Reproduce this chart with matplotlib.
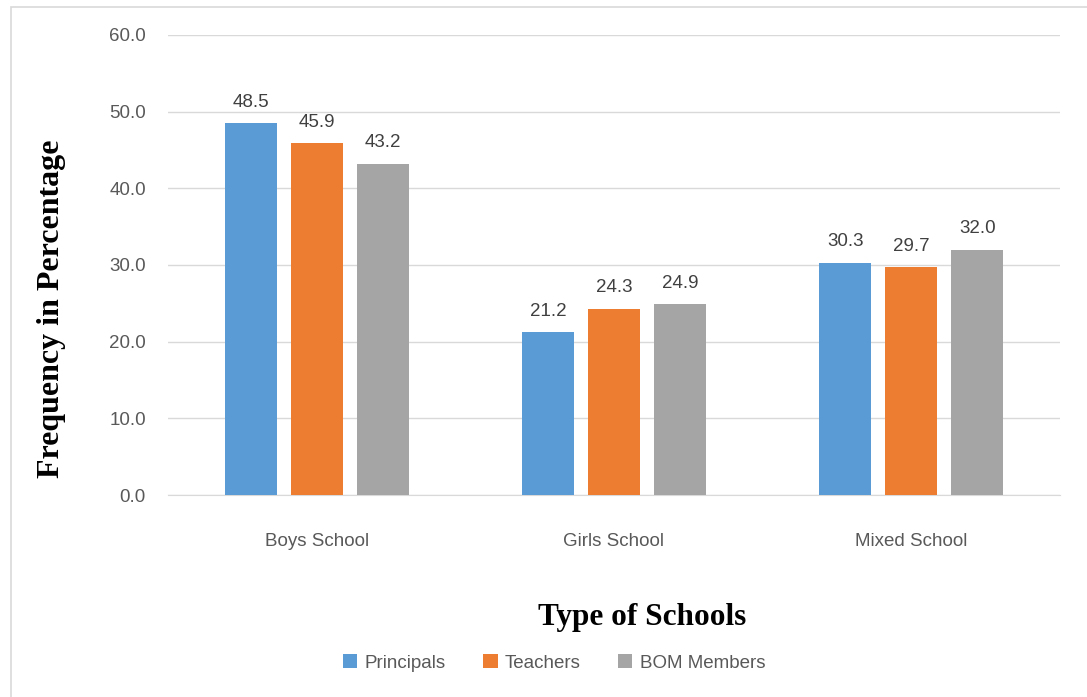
import matplotlib.pyplot as plt
import numpy as np
from matplotlib.patches import Rectangle

# Share of respondents by school type
school_types = ["Boys School", "Girls School", "Mixed School"]
principals = [48.5, 21.2, 30.3]
teachers = [45.9, 24.3, 29.7]
bom_members = [43.2, 24.9, 32.0]

series = [("Principals", principals, "#5B9BD5"),
          ("Teachers", teachers, "#ED7D31"),
          ("BOM Members", bom_members, "#A5A5A5")]

fig = plt.figure(figsize=(10.87, 6.97), dpi=100)
ax = fig.add_axes([0.1546, 0.2898, 0.8204, 0.66])

x = np.arange(len(school_types))
width = 0.175
offsets = [-0.222, 0.0, 0.222]

for (name, vals, color), off in zip(series, offsets):
    bars = ax.bar(x + off, vals, width, color=color, label=name, zorder=3)
    for b, v in zip(bars, vals):
        ax.annotate(f"{v:.1f}", (b.get_x() + b.get_width() / 2, v),
                    xytext=(0, 9), textcoords="offset points",
                    ha="center", va="bottom", fontsize=13.5,
                    family="Liberation Sans", color="#404040")

ax.set_xlim(-0.5, 2.5)
ax.set_ylim(0, 60)
ax.set_yticks(np.arange(0, 61, 10))
ax.set_yticklabels([f"{t:.1f}" for t in np.arange(0, 61, 10)])
ax.set_xticks(x)
ax.set_xticklabels(school_types)
ax.grid(axis="y", color="#D9D9D9", linewidth=1, zorder=0)
for s in ["left", "right", "top"]:
    ax.spines[s].set_visible(False)
ax.spines["bottom"].set_color("#D9D9D9")
ax.tick_params(axis="both", length=0, labelsize=13.5, labelcolor="#595959")
ax.tick_params(axis="y", pad=16)
ax.tick_params(axis="x", pad=27)
for lbl in ax.get_xticklabels() + ax.get_yticklabels():
    lbl.set_family("Liberation Sans")

fig.text(0.5905, 0.114, "Type of Schools", ha="center", va="center",
         family="Liberation Serif", weight="bold", fontsize=22.5, color="black")
fig.text(0.047, 0.557, "Frequency in Percentage", ha="center", va="center",
         rotation=90, family="Liberation Serif", weight="bold", fontsize=23,
         color="black")

leg = fig.legend(loc="center", bbox_to_anchor=(0.51, 0.049), ncol=3,
                 frameon=False, handlelength=0.75, handleheight=0.75,
                 handletextpad=0.4, columnspacing=2.0,
                 prop={"family": "Liberation Sans", "size": 13.5})
for t in leg.get_texts():
    t.set_color("#595959")

# thin outer frame around the chart
fig.add_artist(Rectangle((11 / 1087, -0.1), 1.2, 1 - 7 / 697 + 0.1,
                         transform=fig.transFigure, fill=False,
                         edgecolor="#D9D9D9", linewidth=1.2))

fig.savefig("out.png", dpi=100, facecolor="white")
